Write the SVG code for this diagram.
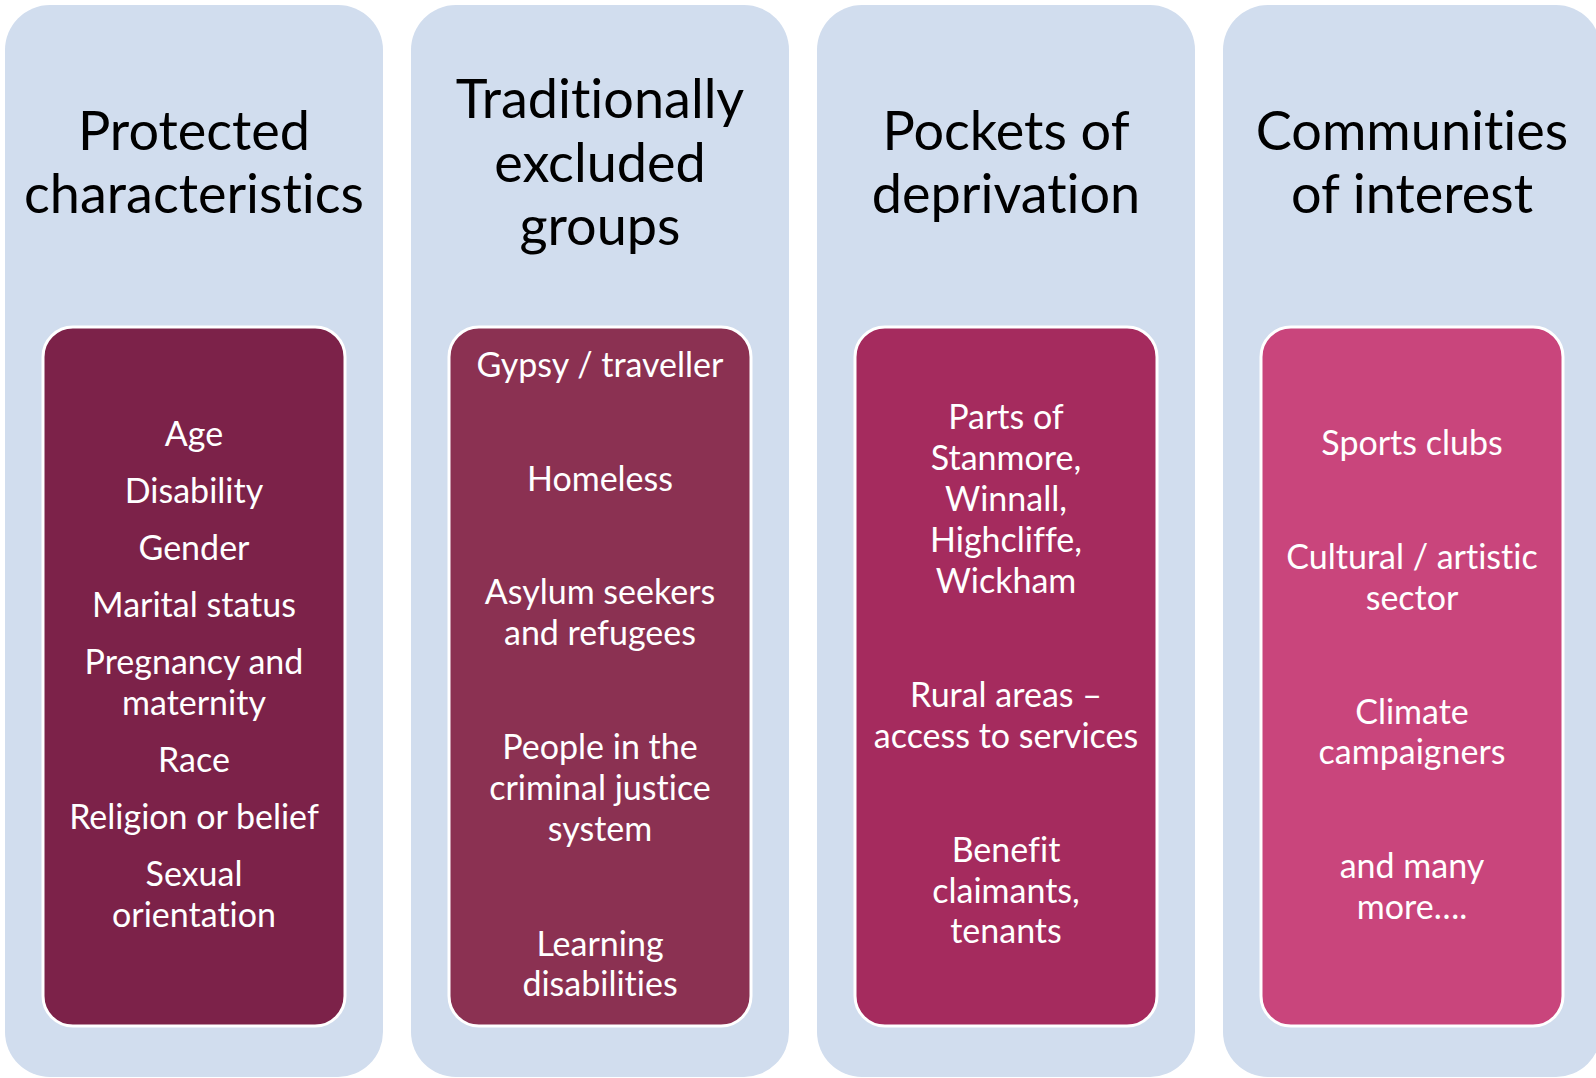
<svg xmlns="http://www.w3.org/2000/svg" width="1596" height="1078" viewBox="0 0 1596 1078">
<style>
.panel{fill:#D1DDEE}
.inner{stroke:#FFFFFF;stroke-width:3}
.title{font-family:Lato,"Open Sans",sans-serif;font-size:54px;fill:#000000;text-anchor:middle;font-variant-ligatures:none}
.item{font-family:Lato,"Open Sans",sans-serif;font-size:34px;fill:#FFFFFF;text-anchor:middle;font-variant-ligatures:none}
</style>
<rect width="1596" height="1078" fill="#FFFFFF"/>
<g id="col1">
<rect class="panel" x="5" y="5" width="378" height="1072" rx="45"/>
<text class="title" x="194" y="150">Protected</text>
<text class="title" x="194" y="213">characteristics</text>
<rect class="inner" x="43" y="327" width="302" height="699" rx="30" fill="#7C2249"/>
<text class="item" x="194" y="446">Age</text>
<text class="item" x="194" y="503">Disability</text>
<text class="item" x="194" y="560">Gender</text>
<text class="item" x="194" y="617">Marital status</text>
<text class="item" x="194" y="674">Pregnancy and</text>
<text class="item" x="194" y="715">maternity</text>
<text class="item" x="194" y="772">Race</text>
<text class="item" x="194" y="829">Religion or belief</text>
<text class="item" x="194" y="886">Sexual</text>
<text class="item" x="194" y="927">orientation</text>
</g>
<g id="col2">
<rect class="panel" x="411" y="5" width="378" height="1072" rx="45"/>
<text class="title" x="600" y="118">Traditionally</text>
<text class="title" x="600" y="182">excluded</text>
<text class="title" x="600" y="245">groups</text>
<rect class="inner" x="449" y="327" width="302" height="699" rx="30" fill="#8B3152"/>
<text class="item" x="600" y="377">Gypsy / traveller</text>
<text class="item" x="600" y="491">Homeless</text>
<text class="item" x="600" y="604">Asylum seekers</text>
<text class="item" x="600" y="645">and refugees</text>
<text class="item" x="600" y="759">People in the</text>
<text class="item" x="600" y="800">criminal justice</text>
<text class="item" x="600" y="841">system</text>
<text class="item" x="600" y="956">Learning</text>
<text class="item" x="600" y="996">disabilities</text>
</g>
<g id="col3">
<rect class="panel" x="817" y="5" width="378" height="1072" rx="45"/>
<text class="title" x="1006" y="150">Pockets of</text>
<text class="title" x="1006" y="213">deprivation</text>
<rect class="inner" x="855" y="327" width="302" height="699" rx="30" fill="#A52B5E"/>
<text class="item" x="1006" y="429">Parts of</text>
<text class="item" x="1006" y="470">Stanmore,</text>
<text class="item" x="1006" y="511">Winnall,</text>
<text class="item" x="1006" y="552">Highcliffe,</text>
<text class="item" x="1006" y="593">Wickham</text>
<text class="item" x="1006" y="707">Rural areas –</text>
<text class="item" x="1006" y="748">access to services</text>
<text class="item" x="1006" y="862">Benefit</text>
<text class="item" x="1006" y="903">claimants,</text>
<text class="item" x="1006" y="943">tenants</text>
</g>
<g id="col4">
<rect class="panel" x="1223" y="5" width="378" height="1072" rx="45"/>
<text class="title" x="1412" y="150">Communities</text>
<text class="title" x="1412" y="213">of interest</text>
<rect class="inner" x="1261" y="327" width="302" height="699" rx="30" fill="#C9457C"/>
<text class="item" x="1412" y="455">Sports clubs</text>
<text class="item" x="1412" y="569">Cultural / artistic</text>
<text class="item" x="1412" y="610">sector</text>
<text class="item" x="1412" y="724">Climate</text>
<text class="item" x="1412" y="764">campaigners</text>
<text class="item" x="1412" y="878">and many</text>
<text class="item" x="1412" y="919">more….</text>
</g>
<g id="connectors"/>
</svg>
